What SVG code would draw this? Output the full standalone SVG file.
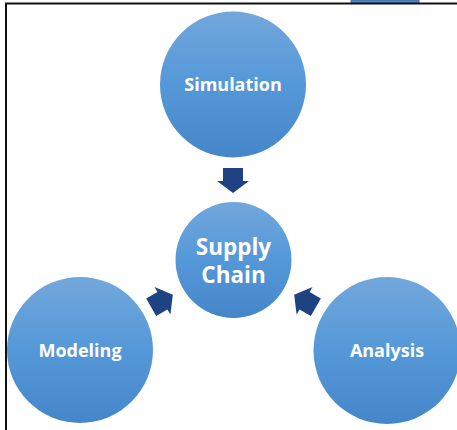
<svg xmlns="http://www.w3.org/2000/svg" width="457" height="430" viewBox="0 0 457 430">
<defs>
<linearGradient id="g" x1="0" y1="0" x2="0" y2="1">
<stop offset="0" stop-color="#72a7dc"/>
<stop offset="0.5" stop-color="#5598d8"/>
<stop offset="1" stop-color="#4586c8"/>
</linearGradient>
<path id="arr" d="M-10,-12.5 H10 V0.5 H16 L0,12.5 L-16,0.5 H-10 Z"/>
</defs>
<style>
.c{fill:url(#g)}
.t{fill:#ffffff;font-family:"Open Sans",Lato,sans-serif;font-weight:bold;text-anchor:middle}
.a{fill:#1f4382}
</style>
<rect width="457" height="430" fill="#ffffff"/>
<rect x="351" y="0" width="68" height="3" fill="#4f86c8" stroke="#3a6aa5" stroke-width="0.8"/>
<path d="M6,430 V3.5 H457" fill="none" stroke="#111111" stroke-width="2"/>
<g id="connectors">
<use href="#arr" class="a" transform="translate(233,180.5)"/>
<use href="#arr" class="a" transform="translate(162,301) rotate(-120)"/>
<use href="#arr" class="a" transform="translate(305,301) rotate(120)"/>
</g>
<g id="simulation">
<circle class="c" cx="233" cy="84.5" r="73"/>
<text class="t" x="233" y="91" font-size="18">Simulation</text>
</g>
<g id="supply-chain">
<circle class="c" cx="233.5" cy="260" r="58"/>
<text class="t" x="233.5" y="255" font-size="22.5">Supply</text>
<text class="t" x="233.5" y="283" font-size="22.5">Chain</text>
</g>
<g id="modeling">
<circle class="c" cx="80" cy="350" r="73"/>
<text class="t" x="80" y="357" font-size="18">Modeling</text>
</g>
<g id="analysis">
<circle class="c" cx="387" cy="350.5" r="73.5"/>
<text class="t" x="387" y="357" font-size="18">Analysis</text>
</g>
</svg>
